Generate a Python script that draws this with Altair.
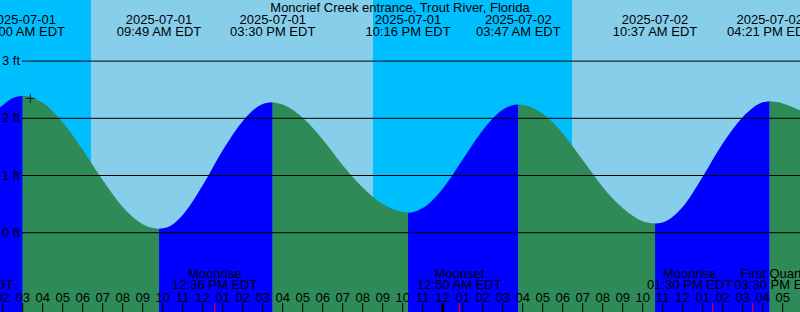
import altair as alt
import pandas as pd

# ---------------- data (hours since 2025-07-01 00:00 EDT) ----------------
X_MIN, X_MAX = 1.865, 41.865
Y_MIN, Y_MAX = -1.386, 4.068

# tide curve readings per segment between extremes (feet)
tide_t = [
    [1.0, 2.0, 2.6, 3.0],
    [3.0, 3.4, 4.0, 5.0, 6.0, 7.0, 8.0, 9.0, 9.4, 9.817],
    [9.817, 10.2, 11.0, 12.0, 13.0, 14.0, 15.0, 15.5],
    [15.5, 16.0, 17.0, 18.0, 19.0, 20.0, 21.0, 22.0, 22.267],
    [22.267, 22.7, 23.0, 24.0, 25.0, 26.0, 27.0, 27.4, 27.783],
    [27.783, 28.2, 29.0, 30.0, 31.0, 32.0, 33.0, 34.0, 34.617],
    [34.617, 35.0, 36.0, 37.0, 38.0, 39.0, 40.0, 40.35],
    [40.35, 40.8, 41.0, 42.0],
]
tide_v = [
    [1.88, 2.23, 2.37, 2.39],
    [2.39, 2.37, 2.27, 1.93, 1.45, 0.92, 0.45, 0.15, 0.09, 0.07],
    [0.07, 0.09, 0.31, 0.83, 1.44, 1.95, 2.25, 2.28],
    [2.28, 2.24, 2.01, 1.63, 1.18, 0.79, 0.50, 0.36, 0.35],
    [0.35, 0.38, 0.43, 0.77, 1.28, 1.79, 2.15, 2.22, 2.24],
    [2.24, 2.22, 2.08, 1.74, 1.27, 0.80, 0.43, 0.20, 0.16],
    [0.16, 0.18, 0.45, 0.98, 1.56, 2.02, 2.28, 2.30],
    [2.30, 2.28, 2.26, 2.12],
]
tide_dir = ["rise", "fall", "rise", "fall", "rise", "fall", "rise", "fall"]

# tide extremes (top labels)
event_t = [3.0, 9.817, 15.5, 22.267, 27.783, 34.617, 40.35]
event_date = ["2025-07-01", "2025-07-01", "2025-07-01", "2025-07-01",
              "2025-07-02", "2025-07-02", "2025-07-02"]
event_time = ["03:00 AM EDT", "09:49 AM EDT", "03:30 PM EDT", "10:16 PM EDT",
              "03:47 AM EDT", "10:37 AM EDT", "04:21 PM EDT"]

# day / night
bg_start = [X_MIN, 6.417, 20.515, 30.465]
bg_end = [6.417, 20.515, 30.465, X_MAX]
bg_color = ["#00bfff", "#87ceeb", "#00bfff", "#87ceeb"]

# grid
grid_levels = [0, 1, 2, 3]
grid_labels = ["0 ft", "1 ft", "2 ft", "3 ft"]

# hour ticks
hour_t = list(range(2, 42))
hour_labels = ["02", "03", "04", "05", "06", "07", "08", "09", "10", "11", "12",
               "01", "02", "03", "04", "05", "06", "07", "08", "09", "10", "11", "12",
               "01", "02", "03", "04", "05", "06", "07", "08", "09", "10", "11", "12",
               "01", "02", "03", "04", "05"]
hour_width = [3 if t == 24 else 1 for t in hour_t]

# moon events
moon_tick_t = [12.6, 24.833, 37.5, 39.5]
moon_label_t = [0.415, 12.6, 24.833, 36.35, 40.715]
moon_line1 = ["Moonset", "Moonrise", "Moonset", "Moonrise", "First Quarter"]
moon_line2 = ["12:01 AM EDT", "12:36 PM EDT", "12:50 AM EDT", "01:30 PM EDT", "03:30 PM EDT"]

now_t = [3.38]
now_v = [2.35]

TITLE = "Moncrief Creek entrance, Trout River, Florida"
FONT = "Liberation Sans"
FS = 13

# ---------------- tables ----------------
xs = alt.Scale(domain=[X_MIN, X_MAX], nice=False, zero=False)
ys = alt.Scale(domain=[Y_MIN, Y_MAX], nice=False, zero=False)


def X(f="t"):
    return alt.X(f, type="quantitative", scale=xs, axis=None)


def Y(f="level"):
    return alt.Y(f, type="quantitative", scale=ys, axis=None)


ev_df = pd.DataFrame({"t": event_t, "date": event_date, "time": event_time})
bg_df = pd.DataFrame({"t": bg_start, "t2": bg_end, "col": bg_color})
grid_df = pd.DataFrame({"level": grid_levels, "label": grid_labels})
hour_df = pd.DataFrame({"t": hour_t, "label": hour_labels, "w": hour_width})
mtick_df = pd.DataFrame({"t": moon_tick_t})
mlab_df = pd.DataFrame({"t": moon_label_t, "l1": moon_line1, "l2": moon_line2})
now_df = pd.DataFrame({"t": now_t, "level": now_v})

bg = alt.Chart(bg_df).mark_rect().encode(
    x=X(), x2="t2", y=alt.value(0), y2=alt.value(312),
    color=alt.Color("col:N", scale=None))

areas = []
for i, (ts, vs) in enumerate(zip(tide_t, tide_v)):
    seg_df = pd.DataFrame({"t": ts, "level": vs, "base": [Y_MIN] * len(ts)})
    col = "#0000ff" if tide_dir[i] == "rise" else "#2e8b57"
    areas.append(
        alt.Chart(seg_df).mark_area(interpolate="monotone", clip=True, color=col).encode(
            x=X(), y=alt.Y("level", type="quantitative", scale=ys, axis=None, stack=None),
            y2="base")
    )

grid = alt.Chart(grid_df).mark_rule(color="black", strokeWidth=1).encode(
    x=alt.value(22), x2=alt.value(800), y=Y())

grid_txt = alt.Chart(grid_df).mark_text(align="right", baseline="middle",
                                        font=FONT, fontSize=FS, color="black").encode(
    x=alt.value(20), y=Y(), text="label:N")

title = alt.Chart(pd.DataFrame({"s": [TITLE]})).mark_text(
    align="center", baseline="middle", font=FONT, fontSize=FS, color="black").encode(
    x=alt.value(400), y=alt.value(8), text="s:N")

ev_date = alt.Chart(ev_df).mark_text(align="center", baseline="middle",
                                     font=FONT, fontSize=FS, color="black").encode(
    x=X(), y=alt.value(20), text="date:N")
ev_time = alt.Chart(ev_df).mark_text(align="center", baseline="middle",
                                     font=FONT, fontSize=FS, color="black").encode(
    x=X(), y=alt.value(31.5), text="time:N")

hour_txt = alt.Chart(hour_df).mark_text(align="center", baseline="middle",
                                        font=FONT, fontSize=FS, color="black").encode(
    x=X(), y=alt.value(297.5), text="label:N")
hour_tick = alt.Chart(hour_df).mark_rule(color="black").encode(
    x=X(), y=alt.value(303), y2=alt.value(312),
    strokeWidth=alt.StrokeWidth("w:Q", scale=None))

moon_tick = alt.Chart(mtick_df).mark_rule(color="red", strokeWidth=1).encode(
    x=X(), y=alt.value(303), y2=alt.value(312))
moon_l1 = alt.Chart(mlab_df).mark_text(align="center", baseline="middle",
                                       font=FONT, fontSize=FS, color="black").encode(
    x=X(), y=alt.value(273.5), text="l1:N")
moon_l2 = alt.Chart(mlab_df).mark_text(align="center", baseline="middle",
                                       font=FONT, fontSize=FS, color="black").encode(
    x=X(), y=alt.value(285), text="l2:N")

now_mark = alt.Chart(now_df).mark_point(shape="M-1,0L1,0M0,-1L0,1", size=80,
                                        color="black", strokeWidth=1.2, filled=False).encode(
    x=X(), y=Y())

chart = alt.layer(bg, *areas, grid, grid_txt, title, ev_date, ev_time,
                  hour_txt, hour_tick, moon_tick, moon_l1, moon_l2, now_mark).properties(
    width=800, height=312, padding=0,
    autosize=alt.AutoSizeParams(type="none"),
    background="white",
).configure_view(stroke=None)

chart.save("out.html", embed_options={"renderer": "svg", "actions": False})
